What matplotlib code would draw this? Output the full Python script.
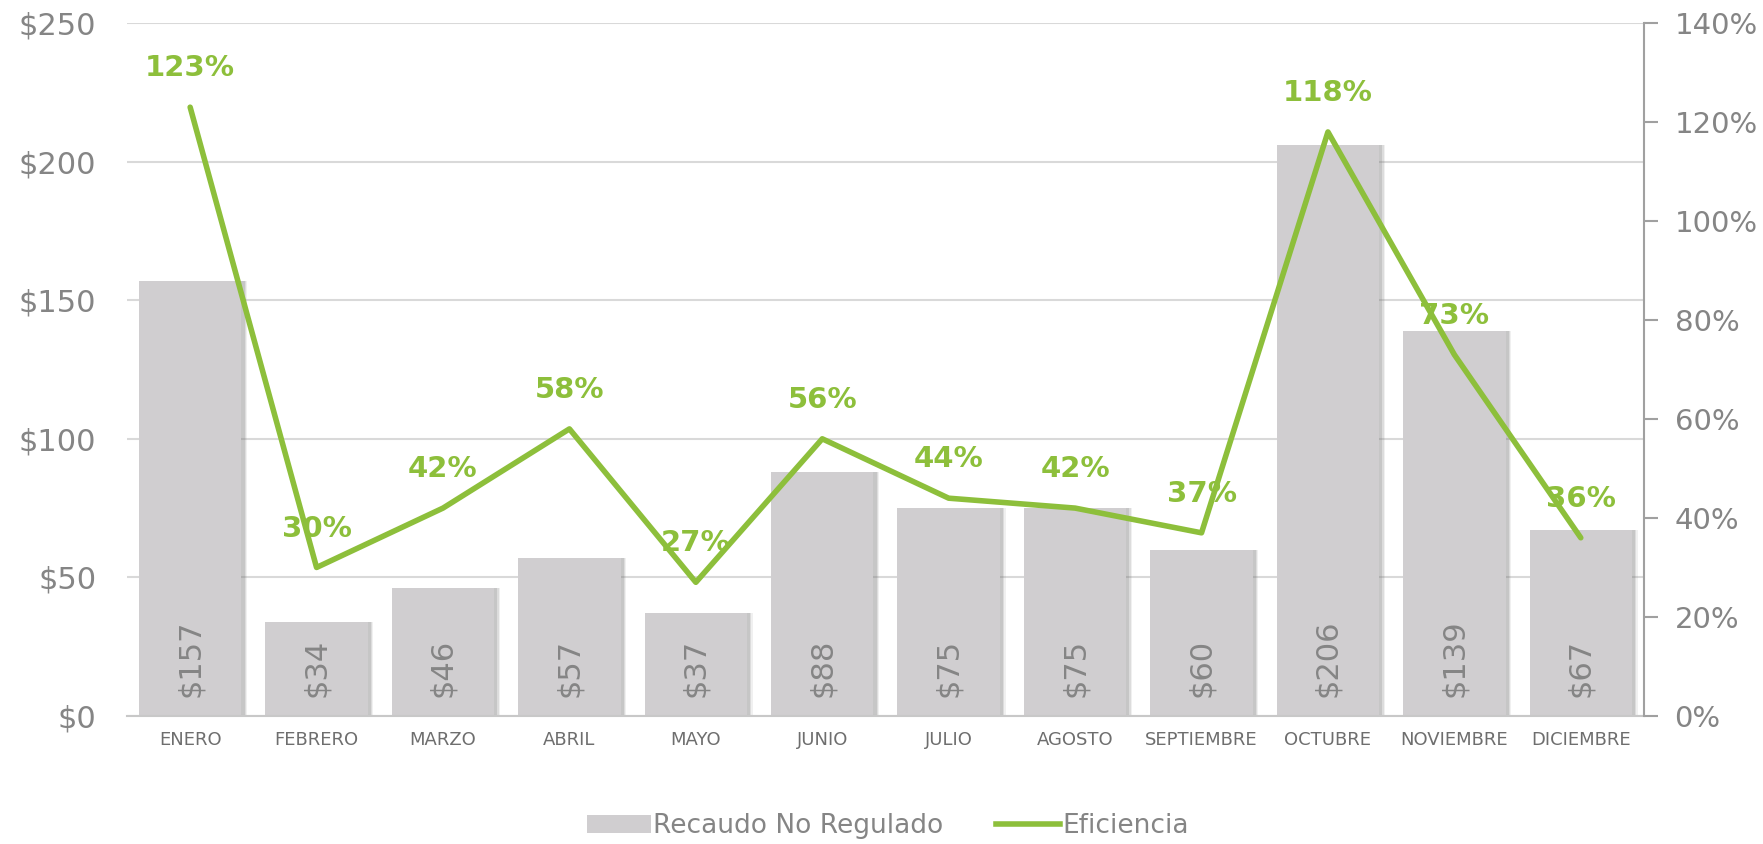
import matplotlib
matplotlib.use("Agg")
import matplotlib.pyplot as plt
from matplotlib.patches import Patch
from matplotlib.lines import Line2D
from matplotlib.ticker import FuncFormatter, MultipleLocator

months = ["ENERO", "FEBRERO", "MARZO", "ABRIL", "MAYO", "JUNIO", "JULIO",
          "AGOSTO", "SEPTIEMBRE", "OCTUBRE", "NOVIEMBRE", "DICIEMBRE"]
recaudo = [157, 34, 46, 57, 37, 88, 75, 75, 60, 206, 139, 67]
eficiencia = [123, 30, 42, 58, 27, 56, 44, 42, 37, 118, 73, 36]

BAR = "#D0CED0"
GREEN = "#8DBF3B"
GRAY = "#858585"
GRID = "#D9D9D9"

plt.rcParams['font.family'] = ['DejaVu Sans']

fig = plt.figure(figsize=(17.63, 8.44), dpi=100)
ax = fig.add_axes([0.072, 0.1517, 0.8605, 0.821])
ax2 = ax.twinx()

x = list(range(len(months)))
w = 0.81

# soft shadow
for off, a in [(0.045, 0.10), (0.035, 0.15), (0.025, 0.2)]:
    ax.bar([i + off for i in x], recaudo, width=w, color="#707070", alpha=a,
           zorder=1.5, linewidth=0)
ax.bar(x, recaudo, width=w, color=BAR, zorder=2, linewidth=0)

for i, v in zip(x, recaudo):
    ax.annotate(f"${v}", (i, 0), xytext=(0, 14), textcoords="offset points",
                rotation=90, ha="center", va="bottom", color=GRAY, fontsize=22)

ax.set_ylim(0, 250)
ax.set_xlim(-0.5, len(months) - 0.5)
ax.yaxis.set_major_locator(MultipleLocator(50))
ax.yaxis.set_major_formatter(FuncFormatter(lambda v, p: f"${v:.0f}"))
ax.grid(axis="y", color=GRID, linewidth=1.5, zorder=0)
ax.set_axisbelow(True)
for s in ["top", "right", "left"]:
    ax.spines[s].set_visible(False)
ax.spines["bottom"].set_color("#C8C8C8")
ax.spines["bottom"].set_linewidth(1.5)
ax.tick_params(axis="y", length=0, labelsize=22, labelcolor=GRAY, pad=22)
ax.tick_params(axis="x", length=0, labelsize=13, labelcolor="#6E6E6E", pad=11)
ax.set_xticks(x)
ax.set_xticklabels(months)

ax2.plot(x, eficiencia, color=GREEN, linewidth=4, zorder=5,
         solid_capstyle="round")
for i, v in zip(x, eficiencia):
    ax2.annotate(f"{v}%", (i, v), xytext=(0, 28), textcoords="offset points",
                 ha="center", va="center", color=GREEN, fontsize=21,
                 fontweight="bold")
ax2.set_ylim(0, 140)
ax2.yaxis.set_major_locator(MultipleLocator(20))
ax2.yaxis.set_major_formatter(FuncFormatter(lambda v, p: f"{v:.0f}%"))
for s in ["top", "left", "bottom"]:
    ax2.spines[s].set_visible(False)
ax2.spines["right"].set_color("#A0A0A0")
ax2.spines["right"].set_linewidth(1.5)
ax2.tick_params(axis="y", length=10, width=1.5, color="#A0A0A0",
                labelsize=21, labelcolor=GRAY, pad=12)

handles = [Patch(facecolor=BAR, edgecolor="none"),
           Line2D([0], [0], color=GREEN, linewidth=4)]
leg = fig.legend(handles, ["Recaudo No Regulado", "Eficiencia"], loc="center",
                 bbox_to_anchor=(888 / 1763, 1 - 826 / 844), ncol=2,
                 frameon=False, fontsize=19, handlelength=2.4,
                 handletextpad=0.1, columnspacing=2.0)
for t in leg.get_texts():
    t.set_color(GRAY)

fig.savefig("out.png", dpi=100)
